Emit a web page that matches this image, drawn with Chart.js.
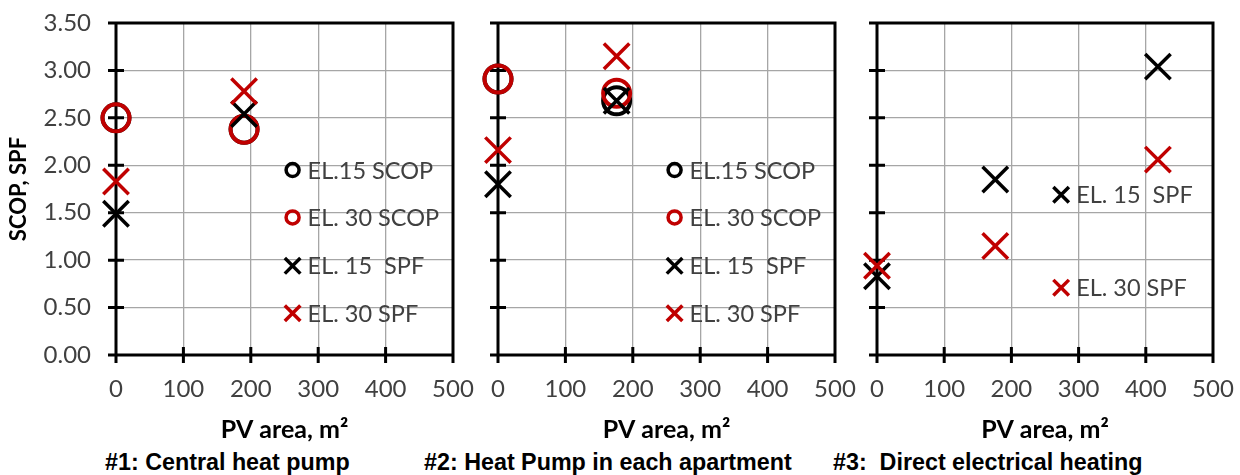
<!DOCTYPE html>
<html>
<head>
<meta charset="utf-8">
<script src="https://cdn.jsdelivr.net/npm/chart.js@4.4.1/dist/chart.umd.min.js"></script>
<style>
  html, body { margin: 0; padding: 0; background: #fff; width: 1240px; height: 475px; overflow: hidden; }
  canvas { position: absolute; top: 0; }
  .caption { position: absolute; top: 449px; font: bold 23.3px "Liberation Sans", Arial, sans-serif; color: #000;
             white-space: pre; line-height: 26px; }
</style>
</head>
<body>
<canvas id="c1" width="480" height="445" style="left:0px"></canvas>
<canvas id="c2" width="400" height="445" style="left:465px"></canvas>
<canvas id="c3" width="385" height="445" style="left:855px"></canvas>
<div class="caption" style="left:105px">#1: Central heat pump</div>
<div class="caption" style="left:424px">#2: Heat Pump in each apartment</div>
<div class="caption" style="left:833px">#3:  Direct electrical heating</div>

<script>
// Axis ticks
const pvTicks = [0, 100, 200, 300, 400, 500];
const copTicks = [0, 0.5, 1, 1.5, 2, 2.5, 3, 3.5];

// Series names
const seriesNames = ['EL.15 SCOP', 'EL. 30 SCOP', 'EL. 15  SPF', 'EL. 30 SPF'];

// #1: Central heat pump
const pvCentral = [0, 190];
const el15ScopCentral = [2.50, 2.38];
const el30ScopCentral = [2.50, 2.38];
const el15SpfCentral = [1.49, 2.54];
const el30SpfCentral = [1.83, 2.78];

// #2: Heat pump in each apartment
const pvApartment = [0, 176];
const el15ScopApartment = [2.91, 2.68];
const el30ScopApartment = [2.91, 2.76];
const el15SpfApartment = [1.80, 2.68];
const el30SpfApartment = [2.16, 3.15];

// #3: Direct electrical heating
const pvDirect = [0, 176, 418];
const el15SpfDirect = [0.83, 1.85, 3.04];
const el30SpfDirect = [0.94, 1.15, 2.06];

const RED = '#C00000';
const BLACK = '#000000';
const TEXT = '#404040';

Chart.defaults.font.family = 'Lato, "Open Sans", sans-serif';
Chart.defaults.color = TEXT;

function points(xs, ys) { return xs.map((x, i) => ({ x: x, y: ys[i] })); }

function scopSet(name, color, xs, ys, order) {
  return { label: name, data: points(xs, ys), pointStyle: 'circle', pointRadius: 13.5,
    pointBorderWidth: 4, pointBorderColor: color, pointBackgroundColor: 'rgba(0,0,0,0)',
    showLine: false, clip: false, order: order, keyColor: color };
}
function spfSet(name, color, xs, ys, order) {
  return { label: name, data: points(xs, ys), pointStyle: 'crossRot', pointRadius: 18,
    pointBorderWidth: 3.5, pointBorderColor: color, pointBackgroundColor: 'rgba(0,0,0,0)',
    showLine: false, clip: false, order: order, keyColor: color };
}

// Black frame with ticks crossing the axes
const framePlugin = {
  id: 'frame',
  beforeDatasetsDraw(chart, args, opts) {
    const { ctx, chartArea: a, scales: { x, y } } = chart;
    const t = opts.tick, w = opts.width;
    ctx.save();
    ctx.strokeStyle = '#000';
    ctx.lineWidth = w;
    ctx.beginPath();
    ctx.moveTo(a.left, a.top - w / 2); ctx.lineTo(a.left, a.bottom + t);
    ctx.moveTo(a.left - t, a.bottom); ctx.lineTo(a.right + w / 2, a.bottom);
    ctx.moveTo(a.left - t, a.top); ctx.lineTo(a.right + w / 2, a.top);
    ctx.moveTo(a.right, a.top); ctx.lineTo(a.right, a.bottom + t);
    y.ticks.forEach(tk => {
      const py = y.getPixelForValue(tk.value);
      ctx.moveTo(a.left - t, py); ctx.lineTo(a.left + t, py);
    });
    x.ticks.forEach(tk => {
      const px = x.getPixelForValue(tk.value);
      ctx.moveTo(px, a.bottom - t); ctx.lineTo(px, a.bottom + t);
    });
    ctx.stroke();
    ctx.restore();
  }
};

// In-plot key, anchored in axis units
const keyPlugin = {
  id: 'key',
  afterDatasetsDraw(chart, args, opts) {
    const { ctx, scales: { x, y } } = chart;
    ctx.save();
    ctx.font = opts.font;
    ctx.textBaseline = 'middle';
    ctx.textAlign = 'left';
    opts.items.forEach(item => {
      const ds = chart.data.datasets[item.dataset];
      const px = x.getPixelForValue(item.x);
      const py = y.getPixelForValue(item.y);
      const isCircle = ds.pointStyle === 'circle';
      ctx.strokeStyle = ds.keyColor;
      ctx.fillStyle = 'rgba(0,0,0,0)';
      ctx.lineWidth = 3.5;
      Chart.helpers.drawPoint(ctx, {
        pointStyle: ds.pointStyle,
        radius: isCircle ? 6.5 : 11,
        borderWidth: 3.5,
        rotation: 0
      }, px, py);
      ctx.fillStyle = TEXT;
      ctx.fillText(ds.label, px + opts.gap, py + 1);
    });
    ctx.restore();
  }
};

function makeChart(id, datasets, cfg) {
  return new Chart(document.getElementById(id), {
    type: 'scatter',
    data: { datasets: datasets },
    plugins: [framePlugin, keyPlugin],
    options: {
      responsive: false,
      devicePixelRatio: 1,
      animation: false,
      events: [],
      layout: { padding: { left: 0, top: 23, right: cfg.padRight, bottom: 0 } },
      plugins: {
        legend: { display: false },
        tooltip: { enabled: false },
        frame: { tick: 8, width: 3 },
        key: { items: cfg.key, gap: 15, font: '23.5px Lato, "Open Sans", sans-serif' }
      },
      scales: {
        x: {
          type: 'linear',
          min: pvTicks[0], max: pvTicks[pvTicks.length - 1],
          ticks: { stepSize: pvTicks[1] - pvTicks[0], font: { size: 24 }, color: TEXT, padding: 20 },
          grid: { color: '#a6a6a6', lineWidth: 1.3, drawTicks: false },
          border: { display: false },
          title: { display: true, text: 'PV area, m²', color: '#000',
                   font: { size: 25, weight: 'bold' }, padding: { top: 0, bottom: 0 } },
          afterFit: s => { s.height = 90; s.paddingLeft = 0; s.paddingRight = 0; }
        },
        y: {
          type: 'linear',
          min: copTicks[0], max: copTicks[copTicks.length - 1],
          ticks: { display: cfg.showY, stepSize: copTicks[1] - copTicks[0], font: { size: 24 },
                   color: TEXT, padding: 25, callback: v => Number(v).toFixed(2) },
          grid: { color: '#a6a6a6', lineWidth: 1.3, drawTicks: false },
          border: { display: false },
          title: { display: cfg.showY, text: 'SCOP, SPF', color: '#000',
                   font: { size: 22, weight: 'bold' }, padding: { top: 6, bottom: 0 } },
          afterFit: s => { s.width = cfg.leftWidth; s.paddingTop = 0; s.paddingBottom = 0; }
        }
      }
    }
  });
}

const fourKey = [
  { dataset: 0, x: 262, y: 1.95 },
  { dataset: 1, x: 262, y: 1.45 },
  { dataset: 2, x: 262, y: 0.94 },
  { dataset: 3, x: 262, y: 0.44 }
];

makeChart('c1', [
  scopSet(seriesNames[0], BLACK, pvCentral, el15ScopCentral, 4),
  scopSet(seriesNames[1], RED, pvCentral, el30ScopCentral, 3),
  spfSet(seriesNames[2], BLACK, pvCentral, el15SpfCentral, 2),
  spfSet(seriesNames[3], RED, pvCentral, el30SpfCentral, 1)
], { padRight: 27, leftWidth: 116, showY: true, key: fourKey });

makeChart('c2', [
  scopSet(seriesNames[0], BLACK, pvApartment, el15ScopApartment, 4),
  scopSet(seriesNames[1], RED, pvApartment, el30ScopApartment, 3),
  spfSet(seriesNames[2], BLACK, pvApartment, el15SpfApartment, 2),
  spfSet(seriesNames[3], RED, pvApartment, el30SpfApartment, 1)
], { padRight: 30, leftWidth: 33, showY: false, key: fourKey });

makeChart('c3', [
  spfSet(seriesNames[2], BLACK, pvDirect, el15SpfDirect, 2),
  spfSet(seriesNames[3], RED, pvDirect, el30SpfDirect, 1)
], { padRight: 27, leftWidth: 22, showY: false, key: [
  { dataset: 0, x: 274, y: 1.69 },
  { dataset: 1, x: 274, y: 0.71 }
] });
</script>
</body>
</html>
